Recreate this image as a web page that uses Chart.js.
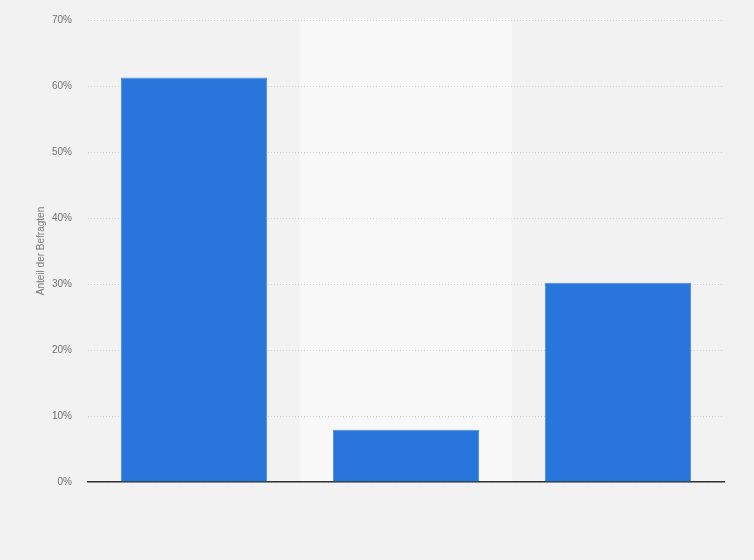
<!doctype html>
<html lang="de">
  <head>
    <meta charset="utf-8">
    <title>Anteil der Befragten</title>
    <script src="https://cdn.jsdelivr.net/npm/chart.js"></script>
    <style>
      html, body { margin: 0; padding: 0; background: #f2f2f2; }
      #wrap { width: 754px; height: 560px; }
    </style>
  </head>
  <body>
    <div id="wrap"><canvas id="surveyChart" width="754" height="560"></canvas></div>
  </body>
</html>

<script>
    // categories have no visible labels in the picture
    var categories = ["", "", ""];
    var shares = [61.3, 7.9, 30.2];
    var yTicks = [0, 10, 20, 30, 40, 50, 60, 70];

    // paints the page background and the lighter middle column band
    var bandPlugin = {
      id: "bands",
      beforeDraw: function (chart) {
        var ctx = chart.ctx;
        var area = chart.chartArea;
        var x = chart.scales.x;
        ctx.save();
        ctx.fillStyle = "#f2f2f2";
        ctx.fillRect(0, 0, chart.width, chart.height);
        var step = (area.right - area.left) / categories.length;
        for (var i = 0; i < categories.length; i++) {
          if (i % 2 === 1) {
            var left = x.getPixelForValue(i) - step / 2;
            ctx.fillStyle = "#f8f8f8";
            ctx.fillRect(left, area.top, step, area.bottom - area.top);
          }
        }
        ctx.restore();
      }
    };

    const ctx = document.getElementById("surveyChart").getContext("2d");
    new Chart(ctx, {
      type: "bar",
      data: {
        labels: categories,
        datasets: [
          {
            label: "Anteil der Befragten",
            data: shares,
            backgroundColor: "#2876dc",
            borderColor: "#4a8ae0",
            borderWidth: { top: 1, left: 1, right: 1, bottom: 0 },
            barPercentage: 0.69,
            categoryPercentage: 1.0,
          },
        ],
      },
      options: {
        responsive: false,
        animation: false,
        layout: { padding: { left: 0, right: 30, top: 20, bottom: 70 } },
        plugins: {
          legend: { display: false },
          tooltip: { enabled: false },
        },
        scales: {
          x: {
            grid: { display: false },
            ticks: { display: false },
            border: { display: true, color: "#333333", width: 1.5 },
          },
          y: {
            min: 0,
            max: 70,
            afterFit: function (scale) {
              scale.width = 88;
              scale.paddingTop = 0;
              scale.paddingBottom = 0;
            },
            afterBuildTicks: function (scale) {
              scale.ticks = yTicks.map(function (v) { return { value: v }; });
            },
            ticks: {
              padding: 16,
              color: "#707070",
              font: { family: "Arial, 'Liberation Sans', sans-serif", size: 10 },
              callback: function (v) { return v + "%"; },
            },
            grid: {
              color: "#cfcfcf",
              drawTicks: false,
            },
            border: { display: false, dash: [1, 2] },
            title: {
              display: true,
              text: "Anteil der Befragten",
              color: "#7a7a7a",
              font: { family: "Arial, 'Liberation Sans', sans-serif", size: 10 },
              padding: { top: 35, bottom: 0 },
            },
          },
        },
      },
      plugins: [bandPlugin],
    });
</script>
